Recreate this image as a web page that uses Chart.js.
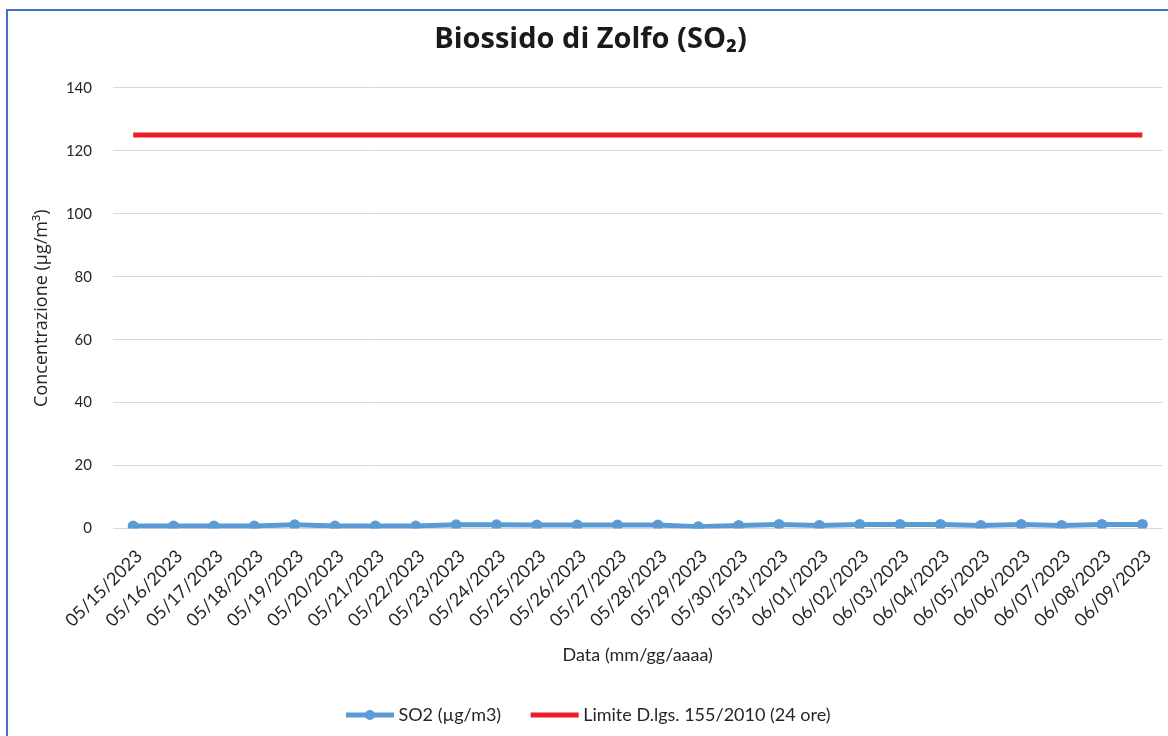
<!DOCTYPE html>
<html>
<head>
<meta charset="utf-8">
<script src="https://cdn.jsdelivr.net/npm/chart.js@4"></script>
<style>
    html, body { margin: 0; padding: 0; background: #fff; }
    #wrap { position: relative; width: 1168px; height: 736px; overflow: hidden; }
    #frame { position: absolute; left: 6px; top: 9px; width: 1200px; height: 800px;
             border-left: 2px solid #4472c4; border-top: 2px solid #4472c4; }
    canvas { position: absolute; left: 0; top: 0; }
</style>
</head>
<body>
<div id="wrap">
    <div id="frame"></div>
    <canvas id="so2Chart" width="1168" height="736"></canvas>
</div>
<script>
const dates = ['05/15/2023', '05/16/2023', '05/17/2023', '05/18/2023', '05/19/2023', '05/20/2023',
    '05/21/2023', '05/22/2023', '05/23/2023', '05/24/2023', '05/25/2023', '05/26/2023', '05/27/2023',
    '05/28/2023', '05/29/2023', '05/30/2023', '05/31/2023', '06/01/2023', '06/02/2023', '06/03/2023',
    '06/04/2023', '06/05/2023', '06/06/2023', '06/07/2023', '06/08/2023', '06/09/2023'];

const so2Values = [0.8, 0.8, 0.8, 0.8, 1.2, 0.8, 0.8, 0.8, 1.2, 1.2, 1.1, 1.1, 1.1,
    1.1, 0.6, 1.0, 1.3, 1.0, 1.3, 1.3, 1.3, 1.0, 1.3, 1.0, 1.3, 1.3];

const limitValues = [125, 125, 125, 125, 125, 125, 125, 125, 125, 125, 125, 125, 125,
    125, 125, 125, 125, 125, 125, 125, 125, 125, 125, 125, 125, 125];

const yTicks = [0, 20, 40, 60, 80, 100, 120, 140];

const FONT = 'Lato, "Open Sans", sans-serif';
const TEXT = '#262626';

// piccole icone per la legenda (linea con pallino / linea semplice)
function legendIcon(color, withDot) {
    const c = document.createElement('canvas');
    c.width = 50;
    c.height = 12;
    const g = c.getContext('2d');
    g.strokeStyle = color;
    g.lineWidth = 5;
    g.beginPath();
    g.moveTo(1, 6);
    g.lineTo(49, 6);
    g.stroke();
    if (withDot) {
        g.fillStyle = color;
        g.beginPath();
        g.arc(25, 6, 5, 0, Math.PI * 2);
        g.fill();
    }
    return c;
}

const data = {
    labels: dates,
    datasets: [
        {
            label: 'SO2 (µg/m3)',
            data: so2Values,
            borderColor: '#5b9bd5',
            backgroundColor: '#5b9bd5',
            borderWidth: 5,
            pointRadius: 5.5,
            pointHoverRadius: 5.5,
            pointBorderWidth: 0,
            tension: 0,
            legendIcon: legendIcon('#5b9bd5', true)
        },
        {
            label: 'Limite D.lgs. 155/2010 (24 ore)',
            data: limitValues,
            borderColor: '#ee1c25',
            backgroundColor: '#ee1c25',
            borderWidth: 5,
            pointRadius: 0,
            tension: 0,
            legendIcon: legendIcon('#ee1c25', false)
        }
    ]
};

const config = {
    type: 'line',
    data: data,
    options: {
        responsive: false,
        animation: false,
        layout: { padding: { top: 14, left: 16, right: 3, bottom: 2 } },
        plugins: {
            title: {
                display: true,
                text: 'Biossido di Zolfo (SO₂)',
                color: '#1a1a1a',
                font: { family: '"Open Sans", Lato, sans-serif', size: 29, weight: 'bold' },
                padding: { top: 8, bottom: 31 }
            },
            legend: {
                position: 'bottom',
                labels: {
                    usePointStyle: true,
                    pointStyleWidth: 39,
                    boxHeight: 12,
                    color: TEXT,
                    font: { family: FONT, size: 18 },
                    padding: 34,
                    generateLabels(chart) {
                        return chart.data.datasets.map((ds, i) => ({
                            text: ds.label,
                            pointStyle: ds.legendIcon,
                            fontColor: TEXT,
                            lineWidth: 0,
                            strokeStyle: 'transparent',
                            fillStyle: 'transparent',
                            hidden: false,
                            datasetIndex: i
                        }));
                    }
                }
            },
            tooltip: { enabled: false }
        },
        scales: {
            x: {
                offset: true,
                grid: { display: false },
                border: { display: true, color: '#d9d9d9', width: 1 },
                afterFit(scale) {
                    // le etichette ruotate possono uscire a sinistra come in Excel
                    scale.paddingLeft = 0;
                },
                ticks: {
                    color: TEXT,
                    font: { family: FONT, size: 18 },
                    maxRotation: 45,
                    minRotation: 45,
                    autoSkip: false,
                    labelOffset: 6,
                    padding: 9
                },
                title: {
                    display: true,
                    text: 'Data (mm/gg/aaaa)',
                    color: TEXT,
                    font: { family: FONT, size: 18 },
                    padding: { top: 4, bottom: 6 }
                }
            },
            y: {
                min: 0,
                max: 140,
                afterBuildTicks(axis) {
                    axis.ticks = yTicks.map(v => ({ value: v }));
                },
                afterFit(scale) {
                    scale.width = 97;
                },
                grid: { color: '#d9d9d9', lineWidth: 1, drawTicks: false },
                border: { display: false },
                ticks: {
                    color: TEXT,
                    font: { family: FONT, size: 15 },
                    padding: 21
                },
                title: {
                    display: true,
                    text: 'Concentrazione (µg/m³)',
                    color: TEXT,
                    font: { family: '"Open Sans", Lato, sans-serif', size: 18 },
                    padding: { top: 15, bottom: 14 }
                }
            }
        }
    }
};

new Chart(document.getElementById('so2Chart').getContext('2d'), config);
</script>
</body>
</html>
